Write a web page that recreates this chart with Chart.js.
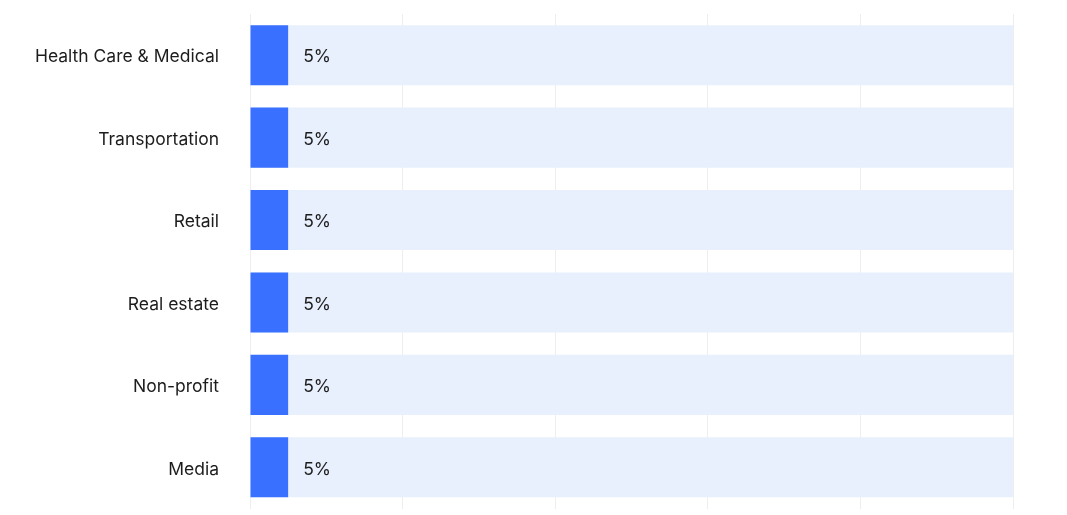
<!DOCTYPE html>
<html>
<head>
<meta charset="utf-8">
<script src="https://cdn.jsdelivr.net/npm/chart.js@4/dist/chart.umd.min.js"></script>
<style>
  html, body { margin: 0; padding: 0; background: #fff; }
  #wrap { width: 1067px; height: 515px; position: relative; }
</style>
</head>
<body>
<div id="wrap"><canvas id="chart"></canvas></div>
<script>
const industries = ['Health Care & Medical', 'Transportation', 'Retail', 'Real estate', 'Non-profit', 'Media'];
const shares = [5, 5, 5, 5, 5, 5];
const fullTrack = [100, 100, 100, 100, 100, 100];

const FONT = 'Inter, "Noto Sans", sans-serif';

// writes "5%" just past the end of each blue bar
const valueLabels = {
  id: 'valueLabels',
  afterDatasetsDraw(chart) {
    const { ctx } = chart;
    const meta = chart.getDatasetMeta(0);
    ctx.save();
    ctx.font = '17.5px ' + FONT;
    ctx.fillStyle = '#1c1c1c';
    ctx.textBaseline = 'middle';
    meta.data.forEach((bar, i) => {
      ctx.fillText(shares[i] + '%', bar.x + 15, bar.y + 2);
    });
    ctx.restore();
  }
};

new Chart(document.getElementById('chart'), {
  type: 'bar',
  data: {
    labels: industries,
    datasets: [
      {
        data: shares,
        backgroundColor: '#3A70FF',
        order: 0,
        barPercentage: 0.73,
        categoryPercentage: 1
      },
      {
        data: fullTrack,
        backgroundColor: '#E8F0FE',
        order: 1,
        barPercentage: 0.73,
        categoryPercentage: 1
      }
    ]
  },
  options: {
    indexAxis: 'y',
    responsive: true,
    maintainAspectRatio: false,
    animation: false,
    grouped: false,
    layout: { padding: { top: 14, right: 54, bottom: 6, left: 0 } },
    plugins: {
      legend: { display: false },
      tooltip: { enabled: false }
    },
    scales: {
      x: {
        min: 0,
        max: 100,
        ticks: { display: false, stepSize: 20 },
        grid: { color: '#eeeeee', drawTicks: false },
        border: { display: false }
      },
      y: {
        afterFit(scale) { scale.width = 250; },
        grid: { display: false, drawTicks: true, tickLength: 35 },
        border: { display: false },
        ticks: {
          color: '#1c1c1c',
          padding: -4,
          labelOffset: 2,
          font: { family: FONT, size: 17.5, lineHeight: 1.2 }
        }
      }
    }
  },
  plugins: [valueLabels]
});
</script>
</body>
</html>
